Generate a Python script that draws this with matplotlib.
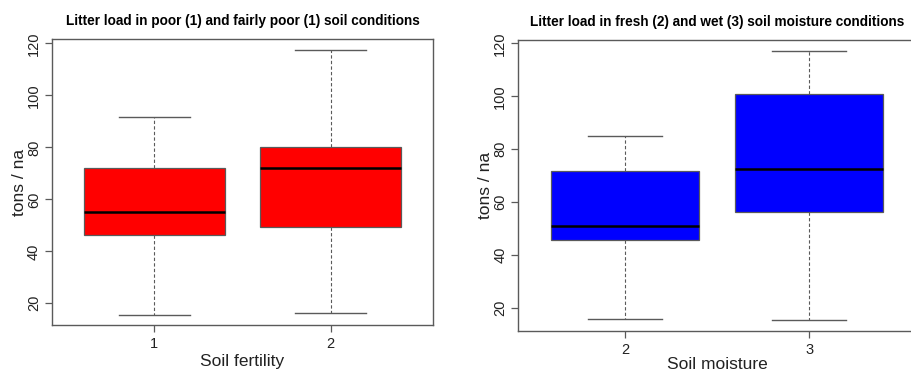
import matplotlib.pyplot as plt

plt.rcParams['font.family'] = ['Liberation Sans', 'DejaVu Sans']

# left panel: soil fertility
fert_labels = ["1", "2"]
fert_low = [15.5, 16.2]
fert_q1 = [46.4, 49.2]
fert_med = [55.0, 71.9]
fert_q3 = [72.0, 80.1]
fert_high = [91.5, 117.4]

# right panel: soil moisture
moist_labels = ["2", "3"]
moist_low = [16.1, 15.5]
moist_q1 = [45.9, 56.5]
moist_med = [51.0, 72.5]
moist_q3 = [71.7, 100.9]
moist_high = [84.9, 117.1]

yticks = [20, 40, 60, 80, 100, 120]
edge = "#5a5a5a"


def draw(ax, labels, low, q1, med, q3, high, color, title, xlabel, ylim, xpad):
    stats = []
    for i in range(len(labels)):
        stats.append({"whislo": low[i], "q1": q1[i], "med": med[i],
                      "q3": q3[i], "whishi": high[i], "fliers": [],
                      "label": labels[i]})
    ax.bxp(stats, positions=[1, 2], widths=0.8, capwidths=0.4,
           patch_artist=True, showfliers=False,
           boxprops=dict(facecolor=color, edgecolor=edge, linewidth=0.9),
           medianprops=dict(color="black", linewidth=1.8),
           whiskerprops=dict(color=edge, linewidth=0.8, linestyle=(0, (3, 2))),
           capprops=dict(color=edge, linewidth=1.0))
    ax.set_xlim(0.42, 2.58)
    ax.set_ylim(*ylim)
    ax.set_yticks(yticks)
    ax.set_yticklabels([str(t) for t in yticks], rotation=90, va="center")
    for s in ax.spines.values():
        s.set_color(edge)
        s.set_linewidth(1.0)
    ax.tick_params(colors=edge, labelcolor="#222222", labelsize=10.5, length=5, width=0.9)
    ax.tick_params(axis="y", pad=3)
    ax.set_title(title, fontsize=9.8, fontweight="bold", pad=10)
    ax.set_xlabel(xlabel, fontsize=12.5, labelpad=xpad, color="#222222")
    ax.set_ylabel("tons / na", fontsize=12.5, labelpad=0, color="#222222")


fig = plt.figure(figsize=(9.11, 3.73), dpi=100)
ax1 = fig.add_axes([0.0571, 0.1287, 0.4182, 0.7668])
ax2 = fig.add_axes([0.569, 0.1126, 0.4363, 0.780])

draw(ax1, fert_labels, fert_low, fert_q1, fert_med, fert_q3, fert_high, "#ff0000",
     "Litter load in poor (1) and fairly poor (1) soil conditions", "Soil fertility",
     (11.65, 121.7), 2)
draw(ax2, moist_labels, moist_low, moist_q1, moist_med, moist_q3, moist_high, "#0000ff",
     "Litter load in fresh (2) and wet (3) soil moisture conditions", "Soil moisture",
     (11.4, 121.25), 0)

fig.savefig("out.png", dpi=100)
